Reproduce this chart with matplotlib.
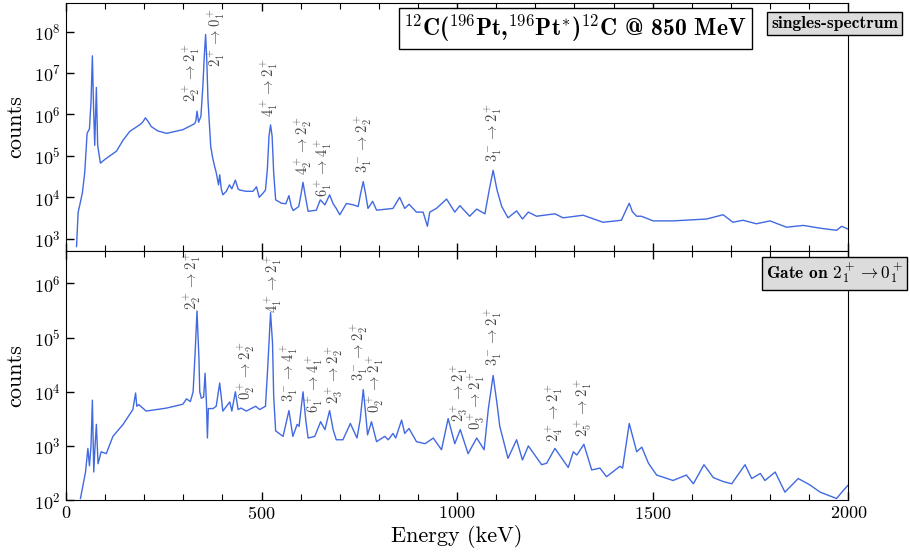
import matplotlib
matplotlib.use("Agg")
import matplotlib.pyplot as plt
from matplotlib.ticker import MultipleLocator, LogLocator, NullLocator

plt.rcParams['font.family'] = ['cmr10', 'DejaVu Sans']
plt.rcParams['mathtext.fontset'] = 'cm'
plt.rcParams['axes.formatter.use_mathtext'] = True

# singles spectrum (energy in keV, counts)
singles_e = [27, 31, 36, 42, 48, 54, 60, 64, 67.5, 70.5, 73.5, 77.7, 81, 88, 100, 129, 146, 163, 188,
             196, 203, 210, 218, 235, 257, 299, 329, 332, 335, 339, 345, 350, 354, 357, 360, 363,
             367, 370, 375, 380, 384, 387, 390, 393, 397, 401, 410, 418, 424, 433, 440, 444, 460,
             478, 487, 494, 505, 510, 515, 519, 523, 527, 531, 536, 551, 562, 570, 576, 581, 595,
             601, 606, 611, 619, 640, 650, 662, 674, 683, 691, 700, 717, 734, 747, 753, 760, 766,
             772, 784, 794, 836, 853, 866, 877, 896, 913, 924, 930, 947, 973, 994, 1007, 1032,
             1050, 1071, 1082, 1092, 1102, 1114, 1130, 1152, 1167, 1182, 1203, 1250, 1271, 1322,
             1373, 1420, 1432, 1440, 1448, 1459, 1471, 1501, 1552, 1638, 1680, 1705, 1731, 1765,
             1800, 1842, 1885, 1928, 1970, 1983, 2000]
singles_c = [6.5e2, 4.3e3, 7e3, 1.3e4, 4e4, 3.5e5, 4.5e5, 2e6, 2.6e7, 1.5e6, 1.8e5, 4.5e6, 1.8e5,
             6.7e4, 8.3e4, 1.3e5, 2.4e5, 3.9e5, 5.6e5, 6.5e5, 8.3e5, 6.8e5, 5.1e5, 4e5, 3.5e5, 4.3e5, 6e5,
             7e5, 1.2e6, 6.5e5, 9e5, 5e6, 3e7, 8.5e7, 2e7, 2.3e6, 5e5, 1.7e5, 9e4, 5.6e4, 4e4,
             2.8e4, 2e4, 3.5e4, 1.6e4, 1.15e4, 1.4e4, 2e4, 1.6e4, 2.6e4, 1.6e4, 1.5e4, 1.4e4,
             1.4e4, 1.8e4, 1e4, 1.3e4, 1.5e4, 5e4, 3e5, 5.6e5, 3e5, 3.9e4, 8.7e3, 7.2e3, 7e3,
             1.1e4, 6e3, 4.8e3, 6e3, 1.2e4, 2.3e4, 1.2e4, 4.6e3, 4.9e3, 8.7e3, 6.6e3, 1.15e4, 7e3,
             5.4e3, 3.8e3, 7.1e3, 6.6e3, 6e3, 1.2e4, 2.4e4, 1.2e4, 5.4e3, 8e3, 4.9e3, 5.4e3, 1e4,
             5.4e3, 6.8e3, 4.4e3, 4.4e3, 2e3, 4.4e3, 5.4e3, 9.1e3, 4.4e3, 6.3e3, 3.5e3, 5.2e3,
             4e3, 1.5e4, 4.5e4, 1.5e4, 6e3, 3.2e3, 4.7e3, 3e3, 4.4e3, 3.5e3, 4e3, 3.2e3, 3.7e3,
             2.5e3, 2.8e3, 5e3, 7.2e3, 4.5e3, 3.5e3, 3.5e3, 2.7e3, 2.7e3, 3e3, 3.8e3, 2.5e3,
             2.8e3, 2.3e3, 2.7e3, 1.9e3, 2.1e3, 1.8e3, 1.6e3, 2e3, 1.7e3]

# spectrum gated on 2+ -> 0+
gated_e = [37, 43.5, 50, 56, 60, 64, 67.5, 71, 74, 77.7, 82, 90, 103, 120, 146, 171, 178, 181, 186,
           205, 257, 299, 308, 318, 325, 330, 335, 340, 342, 346, 352, 355.6, 359, 361.6, 364,
           376, 384, 393, 401, 418.7, 424, 433, 440, 447.6, 461, 485, 495, 510, 516, 523, 528,
           531, 536, 555, 570, 580, 591, 596, 606, 613, 619, 636, 651, 662, 674, 683, 691, 708,
           727, 744, 752, 760, 766, 771, 781, 794, 815, 824, 836, 843, 858, 866, 877, 896, 918,
           939, 960, 977, 994, 1008, 1028, 1050, 1069, 1080, 1092, 1102, 1109, 1130, 1152, 1167,
           1182, 1216, 1229, 1250, 1284, 1297, 1306, 1324, 1344, 1365, 1382, 1416, 1423, 1440,
           1459, 1472, 1489, 1510, 1552, 1586, 1604, 1631, 1655, 1680, 1702, 1736, 1753, 1775,
           1787, 1813, 1838, 1872, 1902, 1928, 1970, 1987, 2000]
gated_c = [1.07e2, 1.9e2, 3.3e2, 9e2, 4.3e2, 1e3, 7e3, 3.3e2, 9e2, 2.5e3, 4.7e2, 7.8e2, 7.2e2,
           1.5e3, 2.5e3, 4.7e3, 9.5e3, 5.4e3, 5.8e3, 4.4e3, 5e3, 5.9e3, 7.4e3, 6.6e3, 1e4, 5e4,
           3.1e5, 4e4, 1e4, 7.6e3, 8e3, 2.2e4, 6.6e3, 1.4e3, 4.9e3, 4.9e3, 5.4e3, 1.45e4, 4.4e3,
           6.5e3, 4.4e3, 1e4, 4.7e3, 5e3, 4.4e3, 5.4e3, 4.7e3, 5.4e3, 3e4, 2.9e5, 8e4, 8.3e3,
           1.9e3, 1.5e3, 4.5e3, 1.5e3, 2.5e3, 2.3e3, 1e4, 3e3, 1.4e3, 1.5e3, 2.8e3, 2e3, 4.5e3,
           2e3, 1.3e3, 1.3e3, 2.6e3, 1.4e3, 3e3, 1.1e4, 4e3, 1.6e3, 2.8e3, 1.2e3, 1.5e3, 1.3e3,
           1.7e3, 1.4e3, 3e3, 1.7e3, 2.1e3, 1.2e3, 1.1e3, 1.4e3, 8.5e2, 3.2e3, 1.1e3, 2e3, 7.2e2,
           1.4e3, 8.5e2, 5e3, 2e4, 6e3, 2.3e3, 5.9e2, 1.3e3, 5.5e2, 1e3, 4.5e2, 4.8e2, 9e2, 4e2,
           7.8e2, 6.8e2, 1.07e3, 3.6e2, 3.9e2, 2.7e2, 4.2e2, 3.9e2, 2.6e3, 7.8e2, 9.5e2, 4.8e2,
           2.9e2, 2.3e2, 2.9e2, 2e2, 4.5e2, 2.6e2, 2.2e2, 2e2, 4.5e2, 2.5e2, 3.1e2, 2.3e2, 3.3e2,
           1.4e2, 2.5e2, 1.9e2, 1.4e2, 1.07e2, 1.5e2, 1.9e2]

# transition labels: (energy, lower end of the label in counts, text)
singles_labels = [(321, 1.95e6, r'$2_2^+ \rightarrow 2_1^+$'),
                  (385, 1.4e7, r'$2_1^+ \rightarrow 0_1^+$'),
                  (521, 8.9e5, r'$4_1^+ \rightarrow 2_1^+$'),
                  (606, 3.5e4, r'$4_2^+ \rightarrow 2_2^+$'),
                  (657, 1.0e4, r'$6_1^+ \rightarrow 4_1^+$'),
                  (760, 3.9e4, r'$3_1^- \rightarrow 2_2^+$'),
                  (1092, 7.2e4, r'$3_1^- \rightarrow 2_1^+$')]
gated_labels = [(323, 3.3e5, r'$2_2^+ \rightarrow 2_1^+$'),
                (531, 2.9e5, r'$4_1^+ \rightarrow 2_1^+$'),
                (460, 7.1e3, r'$0_2^+ \rightarrow 2_2^+$'),
                (572, 6.5e3, r'$3_1^- \rightarrow 4_1^+$'),
                (636, 4.1e3, r'$6_1^+ \rightarrow 4_1^+$'),
                (685, 6.0e3, r'$2_3^+ \rightarrow 2_2^+$'),
                (749, 1.55e4, r'$3_1^- \rightarrow 2_2^+$'),
                (792, 4.1e3, r'$0_2^+ \rightarrow 2_1^+$'),
                (1007, 2.8e3, r'$2_3^+ \rightarrow 2_1^+$'),
                (1050, 2.0e3, r'$0_3^+ \rightarrow 2_1^+$'),
                (1092, 2.95e4, r'$3_1^- \rightarrow 2_1^+$'),
                (1249, 1.2e3, r'$2_4^+ \rightarrow 2_1^+$'),
                (1322, 1.48e3, r'$2_5^+ \rightarrow 2_1^+$')]

line_col = '#4169e1'
lab_col = '#4a4a4a'

fig = plt.figure(figsize=(9.1, 5.6), dpi=100)
ax1 = fig.add_axes([0.0725, 0.552, 0.8597, 0.4426])
ax2 = fig.add_axes([0.0725, 0.107, 0.8597, 0.445], sharex=ax1)

ax1.plot(singles_e, singles_c, color=line_col, lw=1)
ax2.plot(gated_e, gated_c, color=line_col, lw=1)

ax1.set_yscale('log')
ax2.set_yscale('log')
ax1.set_ylim(5.1e2, 4.9e8)
ax2.set_ylim(1e2, 4e6)
ax1.set_xlim(0, 2000)

for ax in (ax1, ax2):
    ax.xaxis.set_major_locator(MultipleLocator(500))
    ax.xaxis.set_minor_locator(MultipleLocator(100))
    ax.yaxis.set_major_locator(LogLocator(base=10, numticks=12))
    ax.yaxis.set_minor_locator(NullLocator())
    ax.tick_params(which='both', direction='in', top=True, bottom=True,
                   left=True, right=False, labelsize=13)
    ax.tick_params(which='major', length=6, width=1)
    ax.tick_params(which='minor', length=4, width=0.8)
    ax.set_ylabel('counts', fontsize=16)
    ax.yaxis.set_label_coords(-0.052, 0.5)

ax1.tick_params(labelbottom=False)
ax2.set_xlabel('Energy (keV)', fontsize=16, labelpad=2)

for e, c, s in singles_labels:
    ax1.text(e, c, s, rotation=90, ha='center', va='bottom', fontsize=10.5,
             color=lab_col, clip_on=False)
for e, c, s in gated_labels:
    ax2.text(e, c, s, rotation=90, ha='center', va='bottom', fontsize=10.5,
             color=lab_col, clip_on=False)

fig.text(0.632, 0.949, r'$^{12}$C($^{196}$Pt,$^{196}$Pt$^{*}$)$^{12}$C @ 850 MeV',
         family=['cmb10', 'DejaVu Sans'], fontsize=17, ha='center', va='center',
         bbox=dict(boxstyle='square,pad=0.2', fc='white', ec='black', lw=1))
fig.text(0.917, 0.958, 'singles-spectrum', family=['cmb10', 'DejaVu Sans'], fontsize=12.5,
         ha='center', va='center',
         bbox=dict(boxstyle='square,pad=0.22', fc='#dcdcdc', ec='black', lw=1))
fig.text(0.917, 0.5116, r'Gate on $2_1^+ \rightarrow 0_1^+$', family=['cmb10', 'DejaVu Sans'],
         fontsize=12.5, ha='center', va='center',
         bbox=dict(boxstyle='square,pad=0.25', fc='#dcdcdc', ec='black', lw=1))

fig.savefig('out.png', dpi=100)
